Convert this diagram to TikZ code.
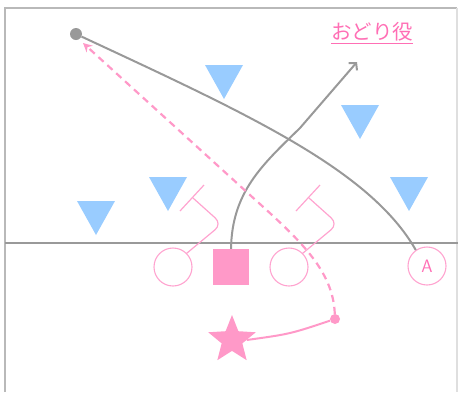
\documentclass[tikz,border=0pt]{standalone}
\usepackage{fontspec}
\newfontfamily\cjk{Noto Sans CJK JP}
\usetikzlibrary{shapes.geometric,arrows.meta}

\definecolor{pinkline}{HTML}{FFA3CF}
\definecolor{pinkfill}{HTML}{FF99C8}
\definecolor{pinktext}{HTML}{FF6FB5}
\definecolor{defblue}{HTML}{99CCFF}
\definecolor{runline}{HTML}{999999}

\tikzset{
  player/.style={circle,draw=pinkline,line width=1.1pt,minimum size=38pt,inner sep=0pt},
  setter/.style={rectangle,fill=pinkfill,minimum size=36pt,inner sep=0pt},
  handline/.style={pinkline,line width=1.2pt},
  run/.style={runline,line width=2pt},
  passrun/.style={pinkfill,line width=2.2pt,dash pattern=on 7pt off 5pt},
}

\begin{document}
\begin{tikzpicture}[x=1pt,y=-1pt]
\useasboundingbox (0,0) rectangle (458,392);
% court
\draw[gray!55,line width=2.5pt] (5,392) -- (5,8) -- (457,8);
\draw[gray!25,line width=1.5pt] (457,8) -- (457,392);
\draw[gray!80,line width=1.3pt] (5,243) -- (458,243);
% blockers
\foreach \x/\y in {224/65,360/105,168/177,96/201,409/177} {
  \fill[defblue] (\x-19,\y) -- (\x+19,\y) -- (\x,\y+34) -- cycle;
}
% players
\node[player] (c1) at (173,267) {};
\node[player] (c2) at (289,267) {};
\node[setter] (sq) at (231,267) {};
\node[player,text=pinktext,font=\sffamily\fontsize{18}{18}\selectfont] (ca) at (427,266) {A};
\node[star,star points=5,star point ratio=2.3,fill=pinkfill,minimum size=50pt,inner sep=0pt] (st) at (232,340) {};
\node[circle,fill=pinkfill,minimum size=10pt,inner sep=0pt] (pd) at (335,319) {};
\node[circle,fill=runline,minimum size=12pt,inner sep=0pt] (gd) at (76,34) {};
\node[text=pinktext,font=\cjk\fontsize{20.5}{20.5}\selectfont] (lab) at (372,33) {\underline{おどり役}};
% hands
\foreach \c in {c1,c2} {
  \draw[handline,rounded corners=9pt] (\c.45) -- ([shift={(49,-43)}]\c.center) -- ([shift={(20,-69)}]\c.center);
  \draw[handline] ([shift={(7,-56)}]\c.center) -- ([shift={(31,-82)}]\c.center);
}
% runs
\coordinate (tip) at (357,62);
\coordinate (back) at (83,43);
\draw[run] (gd) .. controls (250,115) and (370,170) .. (ca.125);
\draw[run,-{Straight Barb[length=5pt,width=11pt]}] (sq.north) .. controls (232,192) and (262,165) .. (300,128) -- (tip);
\draw[passrun,-{Stealth[length=9pt,width=9pt]}] (pd) .. controls (333,270) and (300,240) .. (250,195) -- (back);
\draw[pinkfill,line width=2pt] (st.east) .. controls (290,334) .. (pd);
\end{tikzpicture}
\end{document}
